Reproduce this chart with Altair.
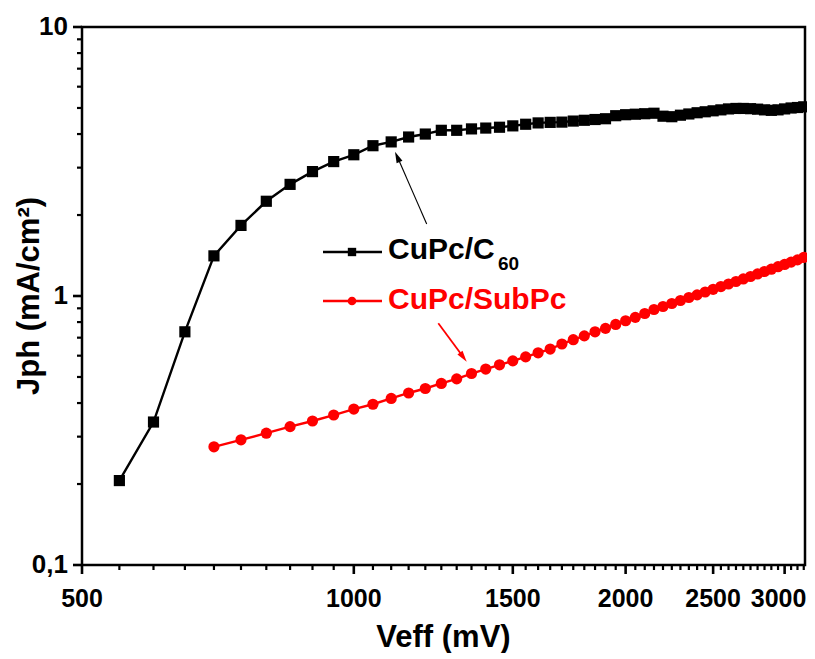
import altair as alt
import pandas as pd

# ---------------- data ----------------
series_names = ["CuPc/C60", "CuPc/SubPc"]
series_colors = ["#000000", "#ff0000"]
series_shapes = ["square", "circle"]

veff_c60 = [550, 600, 650, 700, 750, 800, 850, 900, 950, 1000,
            1050, 1100, 1150, 1200, 1250, 1300, 1350, 1400, 1450, 1500,
            1550, 1600, 1650, 1700, 1750, 1800, 1850, 1900, 1950, 2000,
            2050, 2100, 2150, 2200, 2250, 2300, 2350, 2400, 2450, 2500,
            2550, 2600, 2650, 2700, 2750, 2800, 2850, 2900, 2950, 3000,
            3050, 3100, 3150]
jph_c60 = [0.206, 0.340, 0.736, 1.41, 1.83, 2.25, 2.60, 2.90, 3.16, 3.35,
           3.62, 3.74, 3.90, 4.00, 4.13, 4.13, 4.18, 4.21, 4.24, 4.29,
           4.35, 4.40, 4.42, 4.43, 4.47, 4.50, 4.53, 4.56, 4.68, 4.72,
           4.74, 4.76, 4.78, 4.66, 4.64, 4.70, 4.75, 4.80, 4.84, 4.88,
           4.92, 4.96, 4.98, 4.98, 4.97, 4.95, 4.92, 4.90, 4.92, 4.96,
           5.00, 5.02, 5.05]

veff_subpc = [700, 750, 800, 850, 900, 950, 1000, 1050, 1100, 1150,
              1200, 1250, 1300, 1350, 1400, 1450, 1500, 1550, 1600, 1650,
              1700, 1750, 1800, 1850, 1900, 1950, 2000, 2050, 2100, 2150,
              2200, 2250, 2300, 2350, 2400, 2450, 2500, 2550, 2600, 2650,
              2700, 2750, 2800, 2850, 2900, 2950, 3000, 3050, 3100, 3150]
jph_subpc = [0.275, 0.292, 0.309, 0.327, 0.343, 0.361, 0.380, 0.396, 0.416, 0.436,
             0.453, 0.473, 0.492, 0.515, 0.535, 0.555, 0.574, 0.594, 0.615, 0.635,
             0.663, 0.688, 0.711, 0.736, 0.758, 0.784, 0.809, 0.833, 0.861, 0.891,
             0.914, 0.938, 0.962, 0.987, 1.010, 1.035, 1.059, 1.084, 1.108, 1.132,
             1.157, 1.182, 1.208, 1.233, 1.258, 1.285, 1.310, 1.336, 1.362, 1.391]

x_major = [500, 1000, 1500, 2000, 2500, 3000]
x_tick_labels = ["500", "1000", "1500", "2000", "2500", "3000"]
x_minor = [550, 600, 650, 700, 750, 800, 850, 900, 950,
           1050, 1100, 1150, 1200, 1250, 1300, 1350, 1400, 1450,
           1550, 1600, 1650, 1700, 1750, 1800, 1850, 1900, 1950,
           2050, 2100, 2150, 2200, 2250, 2300, 2350, 2400, 2450,
           2550, 2600, 2650, 2700, 2750, 2800, 2850, 2900, 2950,
           3050, 3100, 3150]
y_major = [0.1, 1, 10]
y_tick_labels = ["0,1", "1", "10"]
y_minor = [0.2, 0.3, 0.4, 0.5, 0.6, 0.7, 0.8, 0.9, 2, 3, 4, 5, 6, 7, 8, 9]

x_title = "Veff (mV)"
y_title = "Jph (mA/cm²)"

# ---------------- chart ----------------
FONT = "Liberation Sans, Arial, sans-serif"
W, H = 723, 538

df = pd.concat([
    pd.DataFrame({"veff": veff_c60, "jph": jph_c60, "series": series_names[0]}),
    pd.DataFrame({"veff": veff_subpc, "jph": jph_subpc, "series": series_names[1]}),
])

x_scale = alt.Scale(type="log", domain=[500, 3160], nice=False)
y_scale = alt.Scale(type="log", domain=[0.1, 10], nice=False)

color = alt.Color("series:N", scale=alt.Scale(domain=series_names, range=series_colors), legend=None)
shape = alt.Shape("series:N", scale=alt.Scale(domain=series_names, range=series_shapes), legend=None)

base = alt.Chart(df)
lines = base.mark_line(strokeWidth=2.4).encode(
    x=alt.X("veff:Q", scale=x_scale, axis=None),
    y=alt.Y("jph:Q", scale=y_scale, axis=None),
    color=color,
    detail="series:N",
)
points = base.mark_point(filled=True, opacity=1, size=125).encode(
    x=alt.X("veff:Q", scale=x_scale, axis=None),
    y=alt.Y("jph:Q", scale=y_scale, axis=None),
    color=color,
    shape=shape,
)


# ---------------- axes: ticks and labels drawn through the shared log scales ----------------
def x_ticks(values, length, width):
    return alt.Chart(pd.DataFrame({"xv": values})).mark_rule(
        color="black", strokeWidth=width, opacity=1, clip=False).encode(
        x=alt.X("xv:Q", scale=x_scale, axis=None), y=alt.value(H), y2=alt.value(H + length))


def y_ticks(values, length, width):
    return alt.Chart(pd.DataFrame({"yv": values})).mark_rule(
        color="black", strokeWidth=width, opacity=1, clip=False).encode(
        y=alt.Y("yv:Q", scale=y_scale, axis=None), x=alt.value(-length), x2=alt.value(0))


def x_labels(values, labels, dx=0):
    return alt.Chart(pd.DataFrame({"v": values, "t": labels})).mark_text(
        align="center", baseline="top", font=FONT, fontSize=25, fontWeight="bold",
        color="black", dx=dx).encode(
        x=alt.X("v:Q", scale=x_scale, axis=None), y=alt.value(H + 22), text="t:N")


y_label_layer = alt.Chart(pd.DataFrame({"v": y_major, "t": y_tick_labels})).mark_text(
    align="right", baseline="middle", font=FONT, fontSize=26, fontWeight="bold", color="black").encode(
    y=alt.Y("v:Q", scale=y_scale, axis=None), x=alt.value(-14), text="t:N")

tick_layers = [
    x_ticks(x_major, 9, 2.6), x_ticks(x_minor, 5, 2.2),
    y_ticks(y_major, 9, 2.6), y_ticks(y_minor, 5, 2.2),
]
label_layers = [
    x_labels(x_major[:-1], x_tick_labels[:-1]),
    x_labels(x_major[-1:], x_tick_labels[-1:], dx=-6),
    y_label_layer,
]

one = alt.Chart(pd.DataFrame({"k": [0]}))
x_title_mark = one.mark_text(align="center", baseline="top", font=FONT, fontSize=31,
                             fontWeight="bold", color="black").encode(
    x=alt.value(W / 2), y=alt.value(H + 58), text=alt.value(x_title))
y_title_mark = one.mark_text(align="center", baseline="bottom", angle=270, font=FONT, fontSize=31,
                             fontWeight="bold", color="black").encode(
    x=alt.value(-36), y=alt.value(H / 2), text=alt.value(y_title))

# ---------------- in-plot legend and arrows (annotations) ----------------
leg_black_line = one.mark_rule(color="black", strokeWidth=2.5).encode(
    x=alt.value(241), x2=alt.value(300), y=alt.value(225), y2=alt.value(225))
leg_black_mark = one.mark_point(shape="square", filled=True, opacity=1, size=70, color="black").encode(
    x=alt.value(270), y=alt.value(225))
leg_black_text = one.mark_text(align="left", baseline="alphabetic", font=FONT, fontSize=30,
                               fontWeight="bold", color="black").encode(
    x=alt.value(306), y=alt.value(232), text=alt.value("CuPc/C"))
leg_black_sub = one.mark_text(align="left", baseline="alphabetic", font=FONT, fontSize=19,
                              fontWeight="bold", color="black").encode(
    x=alt.value(416), y=alt.value(243), text=alt.value("60"))

leg_red_line = one.mark_rule(color="#ff0000", strokeWidth=2.5).encode(
    x=alt.value(241), x2=alt.value(300), y=alt.value(274), y2=alt.value(274))
leg_red_mark = one.mark_point(shape="circle", filled=True, opacity=1, size=75, color="#ff0000").encode(
    x=alt.value(270), y=alt.value(274))
leg_red_text = one.mark_text(align="left", baseline="alphabetic", font=FONT, fontSize=30,
                             fontWeight="bold", color="#ff0000").encode(
    x=alt.value(306), y=alt.value(282), text=alt.value("CuPc/SubPc"))

ARROW = "M0,0L0.45,1.6L-0.45,1.6Z"
arrow_black_line = one.mark_rule(color="black", strokeWidth=1.1).encode(
    x=alt.value(344.7), y=alt.value(197), x2=alt.value(315), y2=alt.value(129))
arrow_black_head = one.mark_point(shape=ARROW, filled=True, opacity=1, size=200, angle=336.3,
                                  color="black").encode(x=alt.value(313), y=alt.value(124.7))
arrow_red_line = one.mark_rule(color="#ff0000", strokeWidth=1.8).encode(
    x=alt.value(356.3), y=alt.value(296.3), x2=alt.value(382), y2=alt.value(331))
arrow_red_head = one.mark_point(shape=ARROW, filled=True, opacity=1, size=200, angle=143.5,
                                color="#ff0000").encode(x=alt.value(384.7), y=alt.value(334.7))

chart = alt.layer(
    lines, points, *label_layers, x_title_mark, y_title_mark,
    leg_black_line, leg_black_mark, leg_black_text, leg_black_sub,
    leg_red_line, leg_red_mark, leg_red_text,
    arrow_black_line, arrow_black_head, arrow_red_line, arrow_red_head,
    *tick_layers,
).properties(
    width=W, height=H,
    autosize=alt.AutoSizeParams(type="none"),
    padding={"left": 74, "top": 19, "right": 2, "bottom": 88},
    background="white",
).configure_view(stroke="black", strokeWidth=2.5)

chart.save("out.html", embed_options={"renderer": "svg", "actions": False})
